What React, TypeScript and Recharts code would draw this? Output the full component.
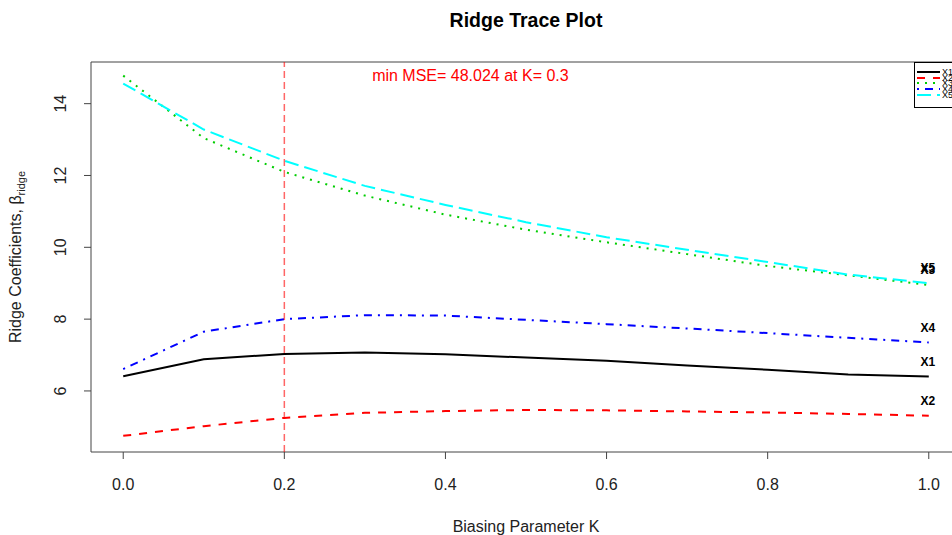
import React from "react";
import {
  LineChart,
  Line,
  XAxis,
  YAxis,
  ReferenceLine,
  ReferenceArea,
  ReferenceDot,
  Legend,
} from "recharts";

// biasing parameter K and the ridge coefficient of each regressor
const K = [0, 0.1, 0.2, 0.3, 0.4, 0.5, 0.6, 0.7, 0.8, 0.9, 1.0];
const X1 = [6.41, 6.88, 7.03, 7.07, 7.02, 6.93, 6.84, 6.71, 6.59, 6.46, 6.4];
const X2 = [4.75, 5.02, 5.25, 5.39, 5.44, 5.47, 5.46, 5.43, 5.4, 5.36, 5.31];
const X3 = [14.78, 13.04, 12.1, 11.44, 10.91, 10.49, 10.14, 9.81, 9.48, 9.22, 8.95];
const X4 = [6.61, 7.65, 8.0, 8.11, 8.1, 7.98, 7.86, 7.74, 7.61, 7.48, 7.35];
const X5 = [14.56, 13.28, 12.41, 11.71, 11.18, 10.7, 10.28, 9.93, 9.59, 9.24, 9.0];

const xTicks = [0, 0.2, 0.4, 0.6, 0.8, 1.0];
const yTicks = [6, 8, 10, 12, 14];
const xDomain = [-0.04, 1.04];
const yDomain = [4.3, 15.16];

const bestK = 0.2;
const minMSE = "48.024";
const minMSEText = `min MSE= ${minMSE} at K= 0.3`;

const series = [
  { key: "X1", values: X1, color: "#000000", dash: undefined },
  { key: "X2", values: X2, color: "#ff0000", dash: "8 8" },
  { key: "X3", values: X3, color: "#00cd00", dash: "2 6" },
  { key: "X4", values: X4, color: "#0000ff", dash: "2 6 8 6" },
  { key: "X5", values: X5, color: "#00ffff", dash: "14 6" },
];

const data = K.map((k, i) => {
  const row: Record<string, number> = { k };
  series.forEach((s) => (row[s.key] = s.values[i]));
  return row;
});

const FONT = "'Liberation Sans', Arial, sans-serif";

function XTick({ x, y, payload }: any) {
  return (
    <text x={x} y={y + 29} textAnchor="middle" fontSize={16} fill="#222" fontFamily={FONT}>
      {Number(payload.value).toFixed(1)}
    </text>
  );
}

function YTick({ x, y, payload }: any) {
  const bx = x - 16;
  return (
    <text
      x={bx}
      y={y}
      transform={`rotate(-90 ${bx} ${y})`}
      textAnchor="middle"
      fontSize={16}
      fill="#222"
      fontFamily={FONT}
    >
      {payload.value}
    </text>
  );
}

function YLabel({ viewBox }: any) {
  const bx = viewBox.x - 10.5;
  const cy = viewBox.y + viewBox.height / 2;
  return (
    <text
      x={bx}
      y={cy}
      transform={`rotate(-90 ${bx} ${cy})`}
      textAnchor="middle"
      fontSize={16}
      fill="#222"
      fontFamily={FONT}
    >
      Ridge Coefficients, β
      <tspan fontSize={11} dy={4}>
        ridge
      </tspan>
    </text>
  );
}

const endLabel = (name: string) => (p: any) =>
  p.index === K.length - 1 ? (
    <text
      key={name}
      x={p.x - 1}
      y={p.y - 14}
      textAnchor="middle"
      dominantBaseline="middle"
      fontSize={12}
      fontWeight="bold"
      fill="#000"
      fontFamily={FONT}
    >
      {name}
    </text>
  ) : null;

function LegendBox() {
  const rows = [10, 16, 21, 27, 33];
  return (
    <svg width={60} height={46} style={{ display: "block" }}>
      <rect x={0.5} y={0.5} width={70} height={45} fill="#fff" stroke="#000" />
      {series.map((s, i) => (
        <g key={s.key}>
          <line
            x1={3}
            x2={26}
            y1={rows[i]}
            y2={rows[i]}
            stroke={s.color}
            strokeWidth={2}
            strokeDasharray={s.dash}
          />
          <text x={28} y={rows[i] + 3} fontSize={9} fill="#000" fontFamily={FONT}>
            {s.key}
          </text>
        </g>
      ))}
    </svg>
  );
}

export default function App() {
  return (
    <div
      style={{
        position: "absolute",
        left: 0,
        top: 0,
        width: 952,
        height: 535,
        overflow: "hidden",
        background: "#fff",
      }}
    >
      <LineChart
        width={1000}
        height={535}
        data={data}
        margin={{ top: 62, right: 39, bottom: 3, left: 31 }}
      >
        <ReferenceArea
          x1={xDomain[0]}
          x2={xDomain[1]}
          y1={yDomain[0]}
          y2={yDomain[1]}
          fill="none"
          fillOpacity={0}
          stroke="#444"
          strokeWidth={1}
          ifOverflow="visible"
        />
        <XAxis
          type="number"
          dataKey="k"
          domain={xDomain}
          ticks={xTicks}
          allowDataOverflow
          height={80}
          axisLine={false}
          tickLine={{ stroke: "#444" }}
          tickSize={7}
          tick={<XTick />}
          label={{
            value: "Biasing Parameter K",
            position: "insideBottom",
            offset: 0,
            fontSize: 16,
            fill: "#222",
            fontFamily: FONT,
          }}
        />
        <YAxis
          type="number"
          domain={yDomain}
          ticks={yTicks}
          allowDataOverflow
          width={60}
          axisLine={false}
          tickLine={{ stroke: "#444" }}
          tickSize={7}
          tick={<YTick />}
          label={<YLabel />}
        />
        {series.map((s) => (
          <Line
            key={s.key}
            type="linear"
            dataKey={s.key}
            stroke={s.color}
            strokeWidth={2}
            strokeDasharray={s.dash}
            dot={false}
            isAnimationActive={false}
            label={endLabel(s.key)}
          />
        ))}
        <ReferenceLine
          x={bestK}
          stroke="#ff0000"
          strokeOpacity={0.6}
          strokeWidth={1.5}
          strokeDasharray="7 4"
        />
        <ReferenceDot
          x={0.431}
          y={14.78}
          r={0.01}
          fill="none"
          stroke="none"
          ifOverflow="visible"
          label={{
            value: minMSEText,
            position: "center",
            fill: "#ff0000",
            fontSize: 16,
            fontFamily: FONT,
          }}
        />
        <Legend
          layout="horizontal"
          verticalAlign="middle"
          align="center"
          content={<LegendBox />}
          wrapperStyle={{ position: "absolute", left: 914, top: 62, width: 60, height: 46 }}
        />
      </LineChart>
      <svg
        width={952}
        height={40}
        style={{ position: "absolute", left: 0, top: 0, pointerEvents: "none" }}
      >
        <text
          x={526}
          y={27}
          textAnchor="middle"
          fontSize={19.5}
          fontWeight="bold"
          fill="#000"
          fontFamily={FONT}
        >
          Ridge Trace Plot
        </text>
      </svg>
    </div>
  );
}
